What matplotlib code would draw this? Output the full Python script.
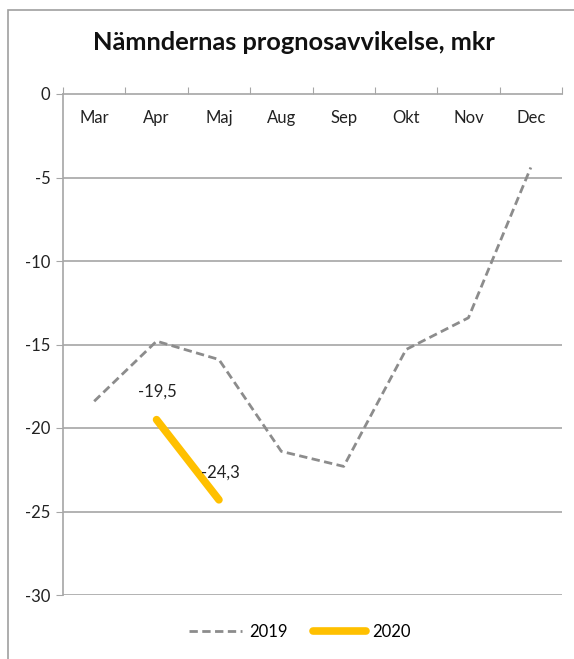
import matplotlib
matplotlib.use("Agg")
import matplotlib.pyplot as plt
from matplotlib.patches import Rectangle

categories = ["Mar", "Apr", "Maj", "Aug", "Sep", "Okt", "Nov", "Dec"]
series_2019 = [-18.4, -14.8, -15.9, -21.4, -22.3, -15.3, -13.4, -4.4]
series_2020 = [None, -19.5, -24.3, None, None, None, None, None]
y_ticks = [0, -5, -10, -15, -20, -25, -30]
title = "Nämndernas prognosavvikelse, mkr"

plt.rcParams['font.family'] = ['Lato', 'DejaVu Sans']

fig = plt.figure(figsize=(5.74, 6.59), dpi=100)
fig.patches.append(Rectangle((8/574, -0.05), 1.1, 1.05 - 10/659,
                             transform=fig.transFigure, fill=False,
                             edgecolor='#a0a0a0', linewidth=1.2))
ax = fig.add_axes([63/574, 1-595/659, (562-63)/574, (595-94)/659])

grid_c = '#a6a6a6'
for s in ['right', 'bottom']:
    ax.spines[s].set_visible(False)
ax.spines['left'].set_color(grid_c)
ax.spines['top'].set_color(grid_c)
ax.spines['left'].set_linewidth(1.2)
ax.spines['top'].set_linewidth(1.2)

ax.set_ylim(-30, 0)
ax.set_xlim(0, len(categories))
ax.set_yticks(y_ticks)
ax.set_yticklabels([str(v) for v in y_ticks], fontsize=12, color='#222222')
ax.tick_params(axis='y', length=5, color=grid_c, direction='out', pad=4)
for v in y_ticks[1:]:
    ax.axhline(v, color=grid_c, linewidth=1.2, zorder=0)

ax.xaxis.tick_top()
ax.set_xticks(range(len(categories) + 1))
ax.set_xticklabels([])
ax.tick_params(axis='x', length=5, color=grid_c, direction='out')
for i, c in enumerate(categories):
    ax.text(i + 0.5, -1.45, c, ha='center', va='center', fontsize=12, color='#222222')

xs = [i + 0.5 for i in range(len(categories))]
ax.plot(xs, series_2019, color='#8c8c8c', linestyle=(0, (3, 1.6)), linewidth=2.0,
        label='2019', zorder=3)
x20 = [x for x, v in zip(xs, series_2020) if v is not None]
y20 = [v for v in series_2020 if v is not None]
ax.plot(x20, y20, color='#FFC000', linewidth=5.5, solid_capstyle='round',
        label='2020', zorder=4)
for x, v in zip(x20, y20):
    ax.text(x + 0.02, v + 1.65, f"{v:.1f}".replace('.', ','), ha='center',
            va='center', fontsize=12, color='#222222', zorder=5)

fig.text(294/574, 1-42/659, title, ha='center', va='center', fontsize=18.3,
         fontweight='bold', color='#111111')

leg = fig.legend(loc='center', bbox_to_anchor=(300/574, 1-632/659), ncol=2,
                 frameon=False, fontsize=12, handlelength=3.2, columnspacing=1.5,
                 handletextpad=0.4)

fig.savefig("out.png", dpi=100)
